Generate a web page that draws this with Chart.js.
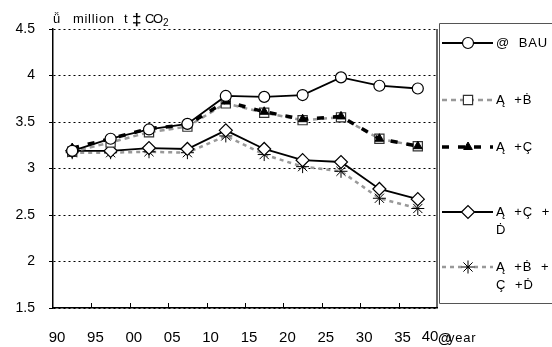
<!DOCTYPE html>
<html>
<head>
<meta charset="utf-8">
<script src="https://cdn.jsdelivr.net/npm/chart.js@4"></script>
<style>
  html, body { margin: 0; padding: 0; background: #fff; }
  #wrap { width: 552px; height: 347px; position: relative; }
</style>
</head>
<body>
<div id="wrap"><canvas id="co2Chart"></canvas></div>
<script>
// 期間 (points sit between the year ticks)
const periods = [0, 1, 2, 3, 4, 5, 6, 7, 8, 9];
const yearTicks = ["90", "95", "00", "05", "10", "15", "20", "25", "30", "35", "40"];
const valueTicks = ["1.5", "2", "2.5", "3", "3.5", "4", "4.5"];

const bauData   = [3.19, 3.32, 3.42, 3.48, 3.78, 3.77, 3.79, 3.98, 3.89, 3.86];
const abData    = [3.18, 3.28, 3.39, 3.45, 3.70, 3.60, 3.52, 3.55, 3.32, 3.24];
const acData    = [3.22, 3.32, 3.43, 3.47, 3.72, 3.61, 3.53, 3.56, 3.32, 3.24];
const acdData   = [3.19, 3.19, 3.22, 3.21, 3.41, 3.21, 3.09, 3.07, 2.78, 2.67];
const abcdData  = [3.17, 3.17, 3.18, 3.17, 3.35, 3.15, 3.02, 2.97, 2.68, 2.57];

const seriesNames = ["@  BAU", "Ą  +Ḃ", "Ą  +Ç", "Ą  +Ç  +|Ḋ", "Ą  +Ḃ  +|Ç  +Ḋ"];

function toPoints(arr) {
    return periods.map((p, i) => ({ x: p + 0.5, y: arr[i] }));
}

const datasets = [
    {
        label: seriesNames[0], data: toPoints(bauData), order: 0,
        borderColor: "#000", borderWidth: 1.8,
        pointStyle: "circle", pointRadius: 5.5,
        pointBackgroundColor: "#fff", pointBorderColor: "#000", pointBorderWidth: 1.2,
    },
    {
        label: seriesNames[1], data: toPoints(abData), order: 2,
        borderColor: "#999", borderWidth: 2.5, borderDash: [5, 4],
        pointStyle: "rect", pointRadius: 6.5,
        pointBackgroundColor: "#fff", pointBorderColor: "#333", pointBorderWidth: 1.2,
    },
    {
        label: seriesNames[2], data: toPoints(acData), order: 1,
        borderColor: "#000", borderWidth: 3.5, borderDash: [7, 9],
        pointStyle: "triangle", pointRadius: 5,
        pointBackgroundColor: "#000", pointBorderColor: "#000", pointBorderWidth: 1,
    },
    {
        label: seriesNames[3], data: toPoints(acdData), order: 3,
        borderColor: "#000", borderWidth: 1.8,
        pointStyle: "rectRot", pointRadius: 6.5,
        pointBackgroundColor: "#fff", pointBorderColor: "#000", pointBorderWidth: 1.2,
    },
    {
        label: seriesNames[4], data: toPoints(abcdData), order: 4,
        borderColor: "#999", borderWidth: 2.5, borderDash: [4, 4],
        pointStyle: "star", pointRadius: 6.5,
        pointBackgroundColor: "#000", pointBorderColor: "#000", pointBorderWidth: 1,
    },
];

const FONT = "'Liberation Sans', Arial, sans-serif";

const extras = {
    id: "extras",
    afterDraw(chart) {
        const ctx = chart.ctx;
        const area = chart.chartArea;
        const xs = chart.scales.x;
        ctx.save();

        // right frame of the plot
        ctx.strokeStyle = "#000";
        ctx.lineWidth = 1.2;
        ctx.beginPath();
        ctx.moveTo(area.right, area.top);
        ctx.lineTo(area.right, area.bottom);
        ctx.stroke();

        // x ticks pointing inside
        ctx.lineWidth = 1;
        for (let i = 1; i < yearTicks.length - 1; i++) {
            const px = Math.round(xs.getPixelForValue(i)) + 0.5;
            ctx.beginPath();
            ctx.moveTo(px, area.bottom);
            ctx.lineTo(px, area.bottom - 5);
            ctx.stroke();
        }

        // unit label
        ctx.fillStyle = "#000";
        ctx.textBaseline = "alphabetic";
        ctx.font = "13px " + FONT;
        ctx.fillText("ǚ", 53, 23);
        ctx.letterSpacing = "0.7px";
        ctx.fillText("million", 73, 23);
        ctx.letterSpacing = "0px";
        ctx.fillText("t", 124, 23);
        ctx.font = "bold 17px " + FONT;
        ctx.fillText("‡", 132, 25);
        ctx.font = "13px " + FONT;
        ctx.fillText("C", 145, 23);
        ctx.fillText("O", 153, 23);
        ctx.font = "10px " + FONT;
        ctx.fillText("2", 163, 26);

        // last year label and unit
        ctx.font = "15px " + FONT;
        ctx.textAlign = "center";
        ctx.textBaseline = "middle";
        ctx.fillText(yearTicks[yearTicks.length - 1], xs.getPixelForValue(10) - 7, 337);
        ctx.textAlign = "left";
        ctx.font = "bold 14px " + FONT;
        ctx.fillText("@", area.right + 1, 339);
        ctx.font = "13px " + FONT;
        ctx.letterSpacing = "0.8px";
        ctx.fillText("year", area.right + 11, 338);
        ctx.letterSpacing = "0px";

        // legend box
        const lx = area.right + 2, ly = 23, lb = 303;
        ctx.strokeStyle = "#555";
        ctx.lineWidth = 1;
        ctx.beginPath();
        ctx.moveTo(552, ly + 0.5);
        ctx.lineTo(lx + 0.5, ly + 0.5);
        ctx.lineTo(lx + 0.5, lb + 0.5);
        ctx.lineTo(552, lb + 0.5);
        ctx.stroke();

        const rows = [43, 100, 147, 212, 267];
        chart.data.datasets.forEach((ds, i) => {
            const cy = rows[i];
            ctx.save();
            ctx.strokeStyle = ds.borderColor;
            ctx.lineWidth = ds.borderWidth;
            ctx.setLineDash(ds.borderDash || []);
            ctx.beginPath();
            ctx.moveTo(lx + 3, cy);
            ctx.lineTo(lx + 54, cy);
            ctx.stroke();
            ctx.restore();
            ctx.save();
            ctx.fillStyle = ds.pointBackgroundColor;
            ctx.strokeStyle = ds.pointBorderColor;
            ctx.lineWidth = ds.pointBorderWidth;
            Chart.helpers.drawPoint(ctx, { pointStyle: ds.pointStyle, radius: ds.pointRadius, rotation: 0, borderWidth: ds.pointBorderWidth }, lx + 29, cy);
            ctx.restore();

            ctx.fillStyle = "#000";
            ctx.font = "13px " + FONT;
            ctx.textBaseline = "middle";
            ctx.letterSpacing = "0.8px";
            ds.label.split("|").forEach((line, k) => {
                ctx.fillText(line, lx + 57, cy + k * 18);
            });
            ctx.letterSpacing = "0px";
        });

        ctx.restore();
    }
};

new Chart(document.getElementById("co2Chart"), {
    type: "line",
    data: { datasets: datasets },
    options: {
        responsive: true,
        maintainAspectRatio: false,
        animation: false,
        layout: { padding: { left: 0, top: 29, right: 115, bottom: 0 } },
        plugins: { legend: { display: false }, tooltip: { enabled: false } },
        elements: { line: { tension: 0, fill: false } },
        scales: {
            x: {
                type: "linear", min: 0, max: 10,
                afterFit: (s) => { s.height = 39; },
                afterBuildTicks: (s) => { s.ticks = yearTicks.map((t, i) => ({ value: i })); },
                ticks: {
                    autoSkip: false, maxRotation: 0, padding: 21, labelOffset: 4,
                    color: "#000",
                    font: { family: FONT, size: 15 },
                    // the last label is drawn by the plugin, raised next to the unit
                    callback: (v) => (v < yearTicks.length - 1 ? yearTicks[v] : ""),
                },
                grid: { display: false, drawTicks: false, tickLength: 0 },
                border: { display: true, color: "#000", width: 1.5 },
            },
            y: {
                min: 1.5, max: 4.5,
                afterFit: (s) => { s.width = 53; },
                afterBuildTicks: (s) => { s.ticks = valueTicks.map((t) => ({ value: parseFloat(t) })); },
                ticks: {
                    padding: 14, color: "#000",
                    font: { family: FONT, size: 14 },
                    callback: (v) => valueTicks.find((t) => parseFloat(t) === v),
                },
                grid: { color: "#000", lineWidth: 1, tickLength: 4, tickColor: "#000", tickBorderDash: [] },
                border: { display: true, color: "#000", width: 1.5, dash: [2, 3] },
            },
        },
    },
    plugins: [extras],
});
</script>
</body>
</html>
